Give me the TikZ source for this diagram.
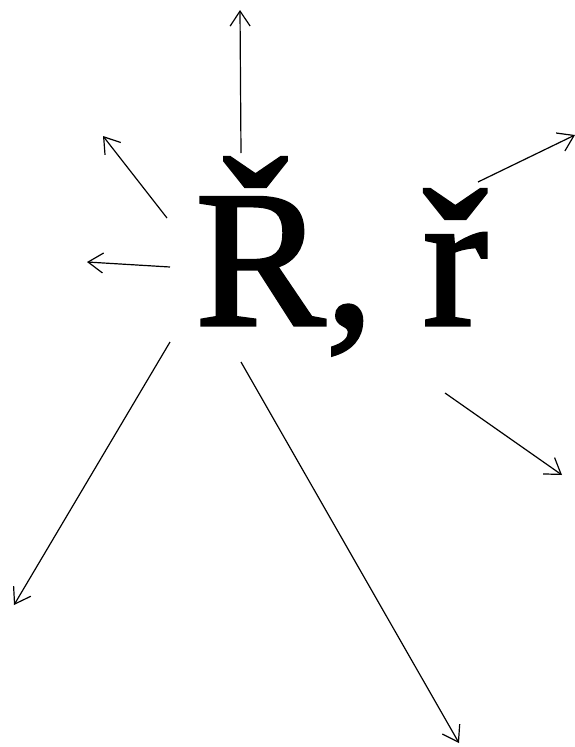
\documentclass[tikz,border=0pt]{standalone}
\usepackage{fontspec}
\setmainfont{Liberation Serif}
\newfontfamily\bigserif[FakeBold=1.6]{Liberation Serif}
\usetikzlibrary{arrows.meta}
\begin{document}
\begin{tikzpicture}[x=1pt,y=-1pt,
  ray/.style={line width=1.2pt,-{Straight Barb[length=15pt,width=20pt,line width=1.2pt]}},
  big/.style={inner sep=0pt,font=\bigserif\fontsize{195}{195}\selectfont}]
\useasboundingbox (0,0) rectangle (575,747);
\node[big,anchor=base west] (t) at (195,325) {Ř, ř};
% start points
\coordinate (s1) at (241,153);
\coordinate (s2) at (167,218);
\coordinate (s3) at (170,267);
\coordinate (s4) at (478,182);
\coordinate (s5) at (445,393);
\coordinate (s6) at (170,342);
\coordinate (s7) at (241,362);
% end points
\coordinate (e1) at (240,10);
\coordinate (e2) at (103,136);
\coordinate (e3) at (87,262);
\coordinate (e4) at (575,135);
\coordinate (e5) at (562,475);
\coordinate (e6) at (14,605);
\coordinate (e7) at (459,743);
\foreach \i in {1,...,7} \draw[ray] (s\i) -- (e\i);
\end{tikzpicture}
\end{document}
